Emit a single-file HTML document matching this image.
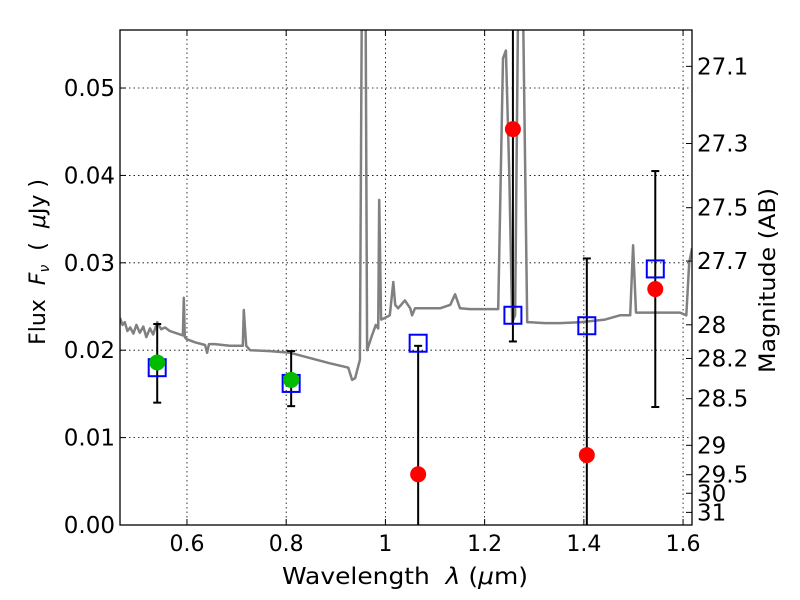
<!DOCTYPE html>
<html><head><meta charset="utf-8"><style>
html,body{margin:0;padding:0;background:#fff;}
svg{display:block;font-family:"DejaVu Sans","Liberation Sans",sans-serif;}
</style></head><body>
<svg id="chart" width="800" height="600" viewBox="0 0 800 600" xmlns="http://www.w3.org/2000/svg">
<defs><clipPath id="clip"><rect x="120" y="30" width="572" height="495"/></clipPath></defs>
<rect width="800" height="600" fill="#fff"/>
<g id="grid"></g>
<g id="spec" clip-path="url(#clip)"></g>
<g id="marks" clip-path="url(#clip)"></g>
<rect x="120" y="30" width="572" height="495" fill="none" stroke="#000" stroke-width="1.3"/>
<g id="axes"></g>
<text x="282" y="584" font-size="23" textLength="246" lengthAdjust="spacingAndGlyphs" xml:space="preserve">Wavelength  <tspan font-style="italic">λ</tspan> (<tspan font-style="italic">μ</tspan>m)</text>
<text transform="translate(45,262) rotate(-90)" font-size="22" text-anchor="middle" xml:space="preserve">Flux  <tspan font-style="italic">F</tspan><tspan font-style="italic" font-size="14" dy="4">ν</tspan><tspan dy="-4">  (  </tspan><tspan font-style="italic">μ</tspan>Jy )</text>
<text transform="translate(775,373) rotate(-90)" font-size="22" textLength="185" lengthAdjust="spacingAndGlyphs">Magnitude (AB)</text>
</svg>
<script>
const specWave=[0.465,0.470,0.4747,0.480,0.4855,0.492,0.498,0.505,0.512,0.518,0.5254,0.532,0.540,0.548,0.556,0.5654,0.5917,0.5937,0.5956,0.5985,0.6161,0.6366,0.6405,0.6444,0.656,0.6863,0.7126,0.7146,0.7194,0.7272,0.7672,0.8081,0.8481,0.8881,0.9183,0.9251,0.9329,0.9388,0.9485,0.9534,0.9592,0.9631,0.9729,0.9807,0.9855,0.9875,0.9914,0.9992,1.0089,1.0158,1.0197,1.0255,1.0392,1.0499,1.0538,1.0596,1.0801,1.1103,1.1308,1.1405,1.1503,1.1708,1.2010,1.2273,1.2371,1.2429,1.2497,1.2555,1.2614,1.2692,1.2750,1.2858,1.2916,1.3218,1.3521,1.3920,1.4427,1.4729,1.4934,1.4993,1.5051,1.5129,1.5538,1.5938,1.6065,1.6124,1.6182];
const specFlux=[0.0237,0.0229,0.0232,0.0222,0.0226,0.0219,0.0229,0.0220,0.0227,0.0215,0.0225,0.0218,0.0232,0.0224,0.0226,0.0222,0.0217,0.0260,0.0215,0.0213,0.0209,0.0206,0.0197,0.0207,0.0207,0.0205,0.0205,0.0246,0.0205,0.0200,0.0199,0.0197,0.0191,0.0185,0.0181,0.0180,0.0166,0.0168,0.0189,0.07,0.07,0.0200,0.0217,0.0229,0.0225,0.0372,0.0235,0.0237,0.0240,0.0278,0.0252,0.0248,0.0257,0.0248,0.0240,0.0248,0.0248,0.0248,0.0252,0.0264,0.0248,0.0247,0.0247,0.0247,0.0534,0.0543,0.0400,0.0232,0.0240,0.07,0.07,0.0232,0.0232,0.0231,0.0231,0.0232,0.0235,0.0240,0.0240,0.0320,0.0243,0.0243,0.0243,0.0243,0.0240,0.0300,0.0317];
const obsWave=[0.54,0.81,1.066,1.257,1.406,1.544];
const modelFlux=[0.0180,0.0162,0.0208,0.0240,0.0228,0.0293];
const greenWave=[0.54,0.81];
const greenFlux=[0.0186,0.0166];
const redWave=[1.066,1.257,1.406,1.544];
const redFlux=[0.0058,0.0453,0.0080,0.0270];
const errLow=[0.0140,0.0136,-0.01,0.0210,-0.01,0.0135];
const errHigh=[0.0230,0.0199,0.0205,0.08,0.0305,0.0405];
const xTicks=[0.6,0.8,1.0,1.2,1.4,1.6];
const xTickLabels=["0.6","0.8","1","1.2","1.4","1.6"];
const yTicks=[0,0.01,0.02,0.03,0.04,0.05];
const yTickLabels=["0.00","0.01","0.02","0.03","0.04","0.05"];
const magTicks=[27.1,27.3,27.5,27.7,28,28.2,28.5,29,29.5,30,31];
const magTickLabels=["27.1","27.3","27.5","27.7","28","28.2","28.5","29","29.5","30","31"];

const NS="http://www.w3.org/2000/svg";
const X0=120,X1=692,Y0=525,Y1=30,XMIN=0.465,XMAX=1.618,YMIN=0,YMAX=0.05664;
function sx(v){return X0+(v-XMIN)/(XMAX-XMIN)*(X1-X0);}
function sy(v){return Y0-(v-YMIN)/(YMAX-YMIN)*(Y0-Y1);}
function magToFlux(m){return Math.pow(10,(23.9-m)/2.5);}
function mk(tag,attrs,parent){const e=document.createElementNS(NS,tag);for(const k in attrs)e.setAttribute(k,attrs[k]);parent.appendChild(e);return e;}
const grid=document.getElementById('grid'),axes=document.getElementById('axes'),spec=document.getElementById('spec'),marks=document.getElementById('marks');

xTicks.forEach((t,i)=>{const x=sx(t);
 let g=mk('line',{x1:x,x2:x,y1:Y1,y2:Y0,stroke:'#000','stroke-width':0.8,'stroke-dasharray':'1.5,3'},grid);
 
 mk('line',{x1:x,x2:x,y1:Y0,y2:Y0-6,stroke:'#000'},axes);
 mk('line',{x1:x,x2:x,y1:Y1,y2:Y1+6,stroke:'#000'},axes);
 let tx=mk('text',{x:x,y:551,'font-size':22,'text-anchor':'middle'},axes);tx.textContent=xTickLabels[i];
 
});
yTicks.forEach((t,i)=>{const y=sy(t);
 let g=mk('line',{x1:X0,x2:X1,y1:y,y2:y,stroke:'#000','stroke-width':0.8,'stroke-dasharray':'1.5,3'},grid);
 
 mk('line',{x1:X0,x2:X0+6,y1:y,y2:y,stroke:'#000'},axes);
 let tx=mk('text',{x:115,y:y+8,'font-size':23,'text-anchor':'end'},axes);tx.textContent=yTickLabels[i];
 
});
magTicks.forEach((m,i)=>{const y=sy(magToFlux(m));
 mk('line',{x1:X1,x2:X1-6,y1:y,y2:y,stroke:'#000'},axes);
 let tx=mk('text',{x:697,y:y+8,'font-size':23,'text-anchor':'start'},axes);tx.textContent=magTickLabels[i];
 
});
let d=specWave.map((w,i)=>(i?'L':'M')+sx(w).toFixed(1)+','+sy(specFlux[i]).toFixed(1)).join('');
let p=mk('path',{d:d,fill:'none',stroke:'#808080','stroke-width':2.5,'stroke-linejoin':'round'},spec);


obsWave.forEach((w,i)=>{const x=sx(w);
 let e=mk('line',{x1:x,x2:x,y1:sy(errLow[i]),y2:sy(errHigh[i]),stroke:'#000','stroke-width':2},marks);
 
 mk('line',{x1:x-4,x2:x+4,y1:sy(errLow[i]),y2:sy(errLow[i]),stroke:'#000','stroke-width':2},marks);
 mk('line',{x1:x-4,x2:x+4,y1:sy(errHigh[i]),y2:sy(errHigh[i]),stroke:'#000','stroke-width':2},marks);
});
obsWave.forEach((w,i)=>{
 let r=mk('rect',{x:sx(w)-8.5,y:sy(modelFlux[i])-8.5,width:17,height:17,fill:'none',stroke:'#0000ff','stroke-width':2},marks);
 
});
greenWave.forEach((w,i)=>{
 let c=mk('circle',{cx:sx(w),cy:sy(greenFlux[i]),r:8,fill:'#00bb00'},marks);
 
});
redWave.forEach((w,i)=>{
 let c=mk('circle',{cx:sx(w),cy:sy(redFlux[i]),r:8,fill:'#ff0000'},marks);
 
});
</script>
</body></html>
